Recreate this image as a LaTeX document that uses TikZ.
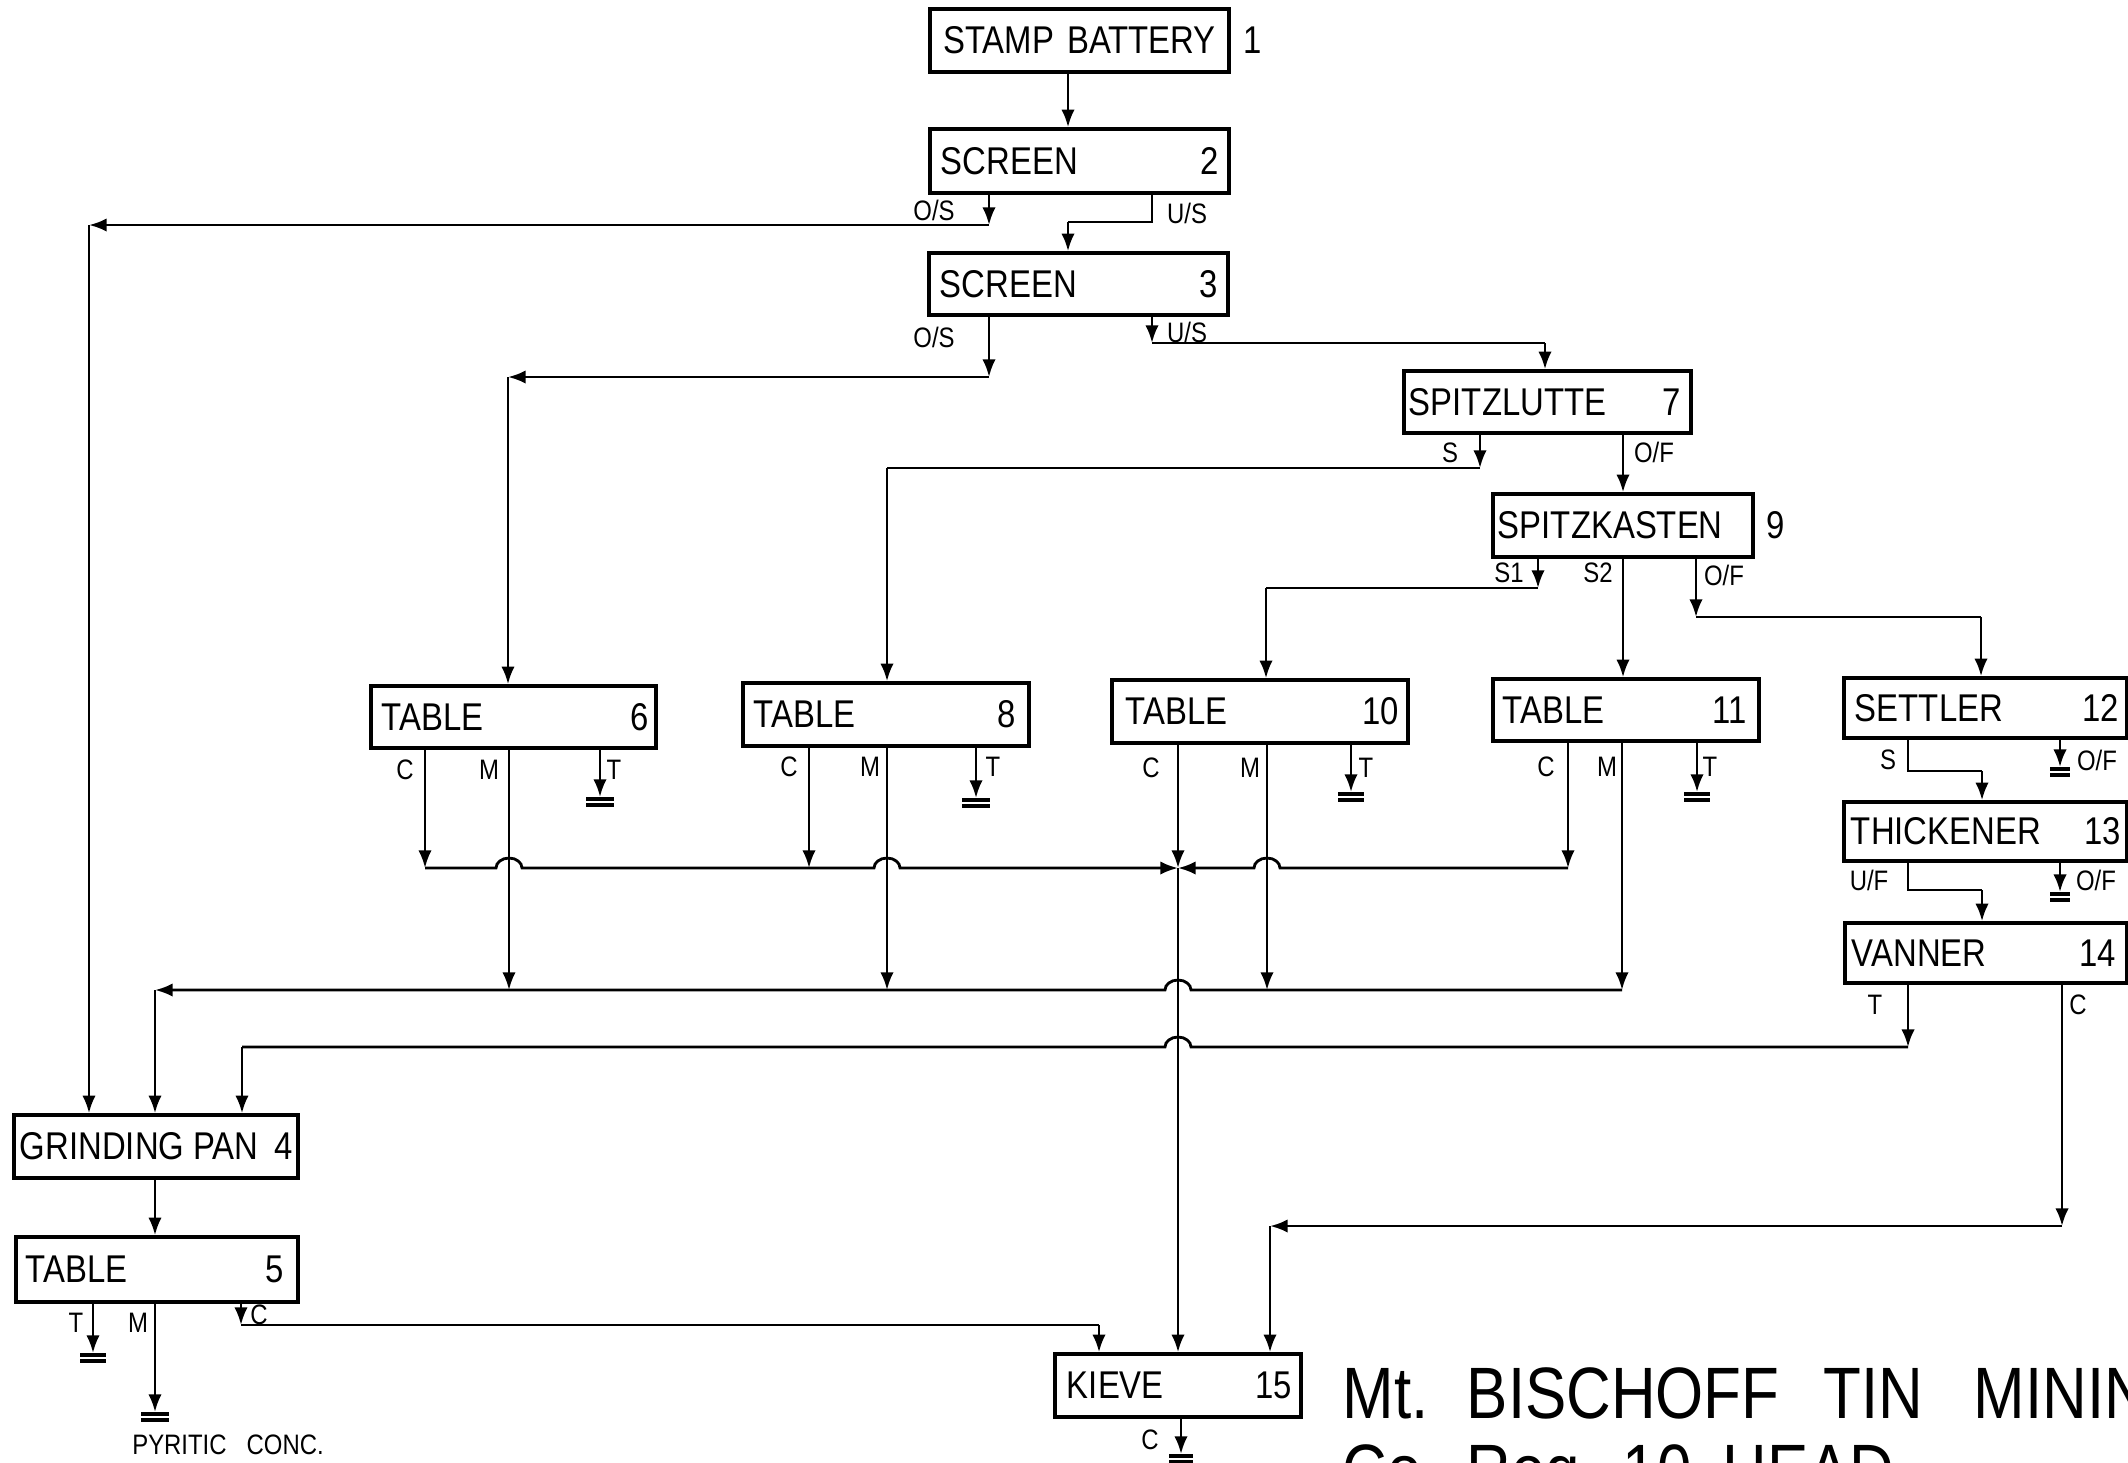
\documentclass[tikz,border=0pt]{standalone}
\usepackage{fontspec}
\setmainfont{Liberation Sans}[FakeStretch=0.85]
\usetikzlibrary{arrows.meta,calc,fit}

% two bars of a discharge point under an arrow tip
\newcommand{\sink}[2]{%
  \draw[bar] ($(#1)+(-#2,2)$) -- ($(#1)+(#2,2)$);
  \draw[bar] ($(#1)+(-#2,8)$) -- ($(#1)+(#2,8)$);}

\begin{document}
\begin{tikzpicture}[x=0.01cm,y=-0.01cm,
    unitbox/.style={draw,line width=1pt,inner sep=0pt},
    boxtxt/.style={font=\fontsize{11}{13}\selectfont,inner sep=0pt},
    tag/.style={font=\fontsize{8}{9}\selectfont,inner sep=0pt},
    headtxt/.style={font=\fontsize{20.7}{24}\selectfont,inner sep=0pt,anchor=base west},
    arr/.style={-{Latex[length=5pt,width=3.8pt]},line width=0.8pt},
    ln/.style={line width=0.8pt},
    bar/.style={line width=0.9pt},
    hopr/.style={insert path={arc[start angle=180,end angle=0,x radius=0.13cm,y radius=0.1cm]}},
    hopl/.style={insert path={arc[start angle=0,end angle=180,x radius=0.13cm,y radius=0.1cm]}}]
  \useasboundingbox (0,0) rectangle (2128,1462);
  \clip (0,0) rectangle (2128,1462);
  \fill[white] (0,0) rectangle (2128,1462);

  % units
  \node[unitbox,fit={(930,9) (1229,72)}] (b1) {};
  \node[unitbox,fit={(930,129) (1229,193)}] (b2) {};
  \node[unitbox,fit={(929,253) (1228,315)}] (b3) {};
  \node[unitbox,fit={(14,1115) (298,1178)}] (b4) {};
  \node[unitbox,fit={(16,1237) (298,1302)}] (b5) {};
  \node[unitbox,fit={(371,686) (656,748)}] (b6) {};
  \node[unitbox,fit={(1404,371) (1691,433)}] (b7) {};
  \node[unitbox,fit={(743,683) (1029,746)}] (b8) {};
  \node[unitbox,fit={(1493,494) (1753,557)}] (b9) {};
  \node[unitbox,fit={(1112,680) (1408,743)}] (b10) {};
  \node[unitbox,fit={(1493,679) (1759,741)}] (b11) {};
  \node[unitbox,fit={(1844,678) (2127,738)}] (b12) {};
  \node[unitbox,fit={(1844,802) (2127,861)}] (b13) {};
  \node[unitbox,fit={(1845,923) (2127,983)}] (b14) {};
  \node[unitbox,fit={(1055,1354) (1301,1417)}] (b15) {};

  \node[boxtxt] (b1t) at (b1) {STAMP\hspace{0.13cm}BATTERY};
  \node[boxtxt,anchor=west] (b1n) at ($(b1.east)+(12,0)$) {1};
  \node[boxtxt,anchor=west] (b2t) at ($(b2.west)+(12,0)$) {SCREEN};
  \node[boxtxt,anchor=east] (b2n) at ($(b2.east)+(-11,0)$) {2};
  \node[boxtxt,anchor=west] (b3t) at ($(b3.west)+(12,0)$) {SCREEN};
  \node[boxtxt,anchor=east] (b3n) at ($(b3.east)+(-11,0)$) {3};
  \node[boxtxt,anchor=west] (b4t) at ($(b4.west)+(7,0)$) {GRINDING PAN};
  \node[boxtxt,anchor=east] (b4n) at ($(b4.east)+(-6,0)$) {4};
  \node[boxtxt,anchor=west] (b5t) at ($(b5.west)+(11,0)$) {TABLE};
  \node[boxtxt,anchor=east] (b5n) at ($(b5.east)+(-15,0)$) {5};
  \node[boxtxt,anchor=west] (b6t) at ($(b6.west)+(12,0)$) {TABLE};
  \node[boxtxt,anchor=east] (b6n) at ($(b6.east)+(-8,0)$) {6};
  \node[boxtxt,anchor=west] (b7t) at ($(b7.west)+(6,0)$) {SPITZLUTTE};
  \node[boxtxt,anchor=east] (b7n) at ($(b7.east)+(-11,0)$) {7};
  \node[boxtxt,anchor=west] (b8t) at ($(b8.west)+(12,0)$) {TABLE};
  \node[boxtxt,anchor=east] (b8n) at ($(b8.east)+(-14,0)$) {8};
  \node[boxtxt,anchor=west] (b9t) at ($(b9.west)+(6,0)$) {SPITZKASTEN};
  \node[boxtxt,anchor=west] (b9n) at ($(b9.east)+(11,0)$) {9};
  \node[boxtxt,anchor=west] (b10t) at ($(b10.west)+(15,0)$) {TABLE};
  \node[boxtxt,anchor=east] (b10n) at ($(b10.east)+(-10,0)$) {10};
  \node[boxtxt,anchor=west] (b11t) at ($(b11.west)+(11,0)$) {TABLE};
  \node[boxtxt,anchor=east] (b11n) at ($(b11.east)+(-13,0)$) {11};
  \node[boxtxt,anchor=west] (b12t) at ($(b12.west)+(12,0)$) {SETTLER};
  \node[boxtxt,anchor=east] (b12n) at ($(b12.east)+(-9,0)$) {12};
  \node[boxtxt,anchor=west] (b13t) at ($(b13.west)+(8,0)$) {THICKENER};
  \node[boxtxt,anchor=east] (b13n) at ($(b13.east)+(-7,0)$) {13};
  \node[boxtxt,anchor=west] (b14t) at ($(b14.west)+(8,0)$) {VANNER};
  \node[boxtxt,anchor=east] (b14n) at ($(b14.east)+(-12,0)$) {14};
  \node[boxtxt,anchor=west] (b15t) at ($(b15.west)+(13,0)$) {KIEVE};
  \node[boxtxt,anchor=east] (b15n) at ($(b15.east)+(-10,0)$) {15};

  % stream labels
  \node[tag] (l2os) at (934,210) {O/S};
  \node[tag] (l2us) at (1187,213) {U/S};
  \node[tag] (l3os) at (934,337) {O/S};
  \node[tag] (l3us) at (1187,332) {U/S};
  \node[tag] (l7s) at (1450,453) {S};
  \node[tag] (l7of) at (1654,452) {O/F};
  \node[tag] (l9s1) at (1509,573) {S1};
  \node[tag] (l9s2) at (1598,573) {S2};
  \node[tag] (l9of) at (1724,575) {O/F};
  \node[tag] (l6c) at (405,770) {C};
  \node[tag] (l6m) at (489,770) {M};
  \node[tag] (l6t) at (614,770) {T};
  \node[tag] (l8c) at (789,767) {C};
  \node[tag] (l8m) at (870,767) {M};
  \node[tag] (l8t) at (993,767) {T};
  \node[tag] (l10c) at (1151,768) {C};
  \node[tag] (l10m) at (1250,768) {M};
  \node[tag] (l10t) at (1366,768) {T};
  \node[tag] (l11c) at (1546,767) {C};
  \node[tag] (l11m) at (1607,767) {M};
  \node[tag] (l11t) at (1710,767) {T};
  \node[tag] (l12s) at (1888,760) {S};
  \node[tag] (l12of) at (2097,760) {O/F};
  \node[tag] (l13uf) at (1869,880) {U/F};
  \node[tag] (l13of) at (2096,880) {O/F};
  \node[tag] (l14t) at (1875,1005) {T};
  \node[tag] (l14c) at (2078,1005) {C};
  \node[tag] (l5t) at (76,1323) {T};
  \node[tag] (l5m) at (138,1323) {M};
  \node[tag] (l5c) at (259,1315) {C};
  \node[tag] (l15c) at (1150,1440) {C};
  \node[tag] (pyr) at (228,1445) {PYRITIC\hspace{0.2cm}CONC.};

  % title
  \node[headtxt] (h1) at (1342,1418) {Mt.};
  \node[headtxt] (h2) at (1466,1418) {BISCHOFF};
  \node[headtxt] (h3) at (1823,1418) {TIN};
  \node[headtxt] (h4) at (1973,1418) {MINING};
  \node[headtxt] (h5) at (1342,1495) {Co.};
  \node[headtxt] (h6) at (1466,1495) {Reg.};
  \node[headtxt] (h7) at (1622,1495) {10};
  \node[headtxt] (h8) at (1722,1495) {HEAD};

  % crushing and screening
  \coordinate (x1) at (1068,100);
  \draw[arr] (b1.south -| x1) -- (b2.north -| x1);
  \coordinate (os2) at (989,225);
  \coordinate (os2l) at (89,225);
  \draw[arr] (b2.south -| os2) -- (os2);
  \draw[arr] (os2) -- (os2l);
  \draw[arr] (os2l) -- (b4.north -| os2l);
  \coordinate (us2) at (1152,222);
  \draw[ln] (b2.south -| us2) -- (us2) -- (us2 -| x1);
  \draw[arr] (us2 -| x1) -- (b3.north -| x1);
  \coordinate (os3) at (989,377);
  \coordinate (os3l) at (508,377);
  \draw[arr] (b3.south -| os3) -- (os3);
  \draw[arr] (os3) -- (os3l);
  \draw[arr] (os3l) -- (b6.north -| os3l);
  \coordinate (us3) at (1152,343);
  \coordinate (us3r) at (1545,343);
  \draw[arr] (b3.south -| us3) -- (us3);
  \draw[ln] (us3) -- (us3r);
  \draw[arr] (us3r) -- (b7.north -| us3r);

  % classifiers
  \coordinate (s7) at (1480,468);
  \coordinate (s7l) at (887,468);
  \draw[arr] (b7.south -| s7) -- (s7);
  \draw[ln] (s7) -- (s7l);
  \draw[arr] (s7l) -- (b8.north -| s7l);
  \coordinate (of7) at (1623,460);
  \draw[arr] (b7.south -| of7) -- (b9.north -| of7);
  \coordinate (s91) at (1538,588);
  \coordinate (s91l) at (1266,588);
  \draw[arr] (b9.south -| s91) -- (s91);
  \draw[ln] (s91) -- (s91l);
  \draw[arr] (s91l) -- (b10.north -| s91l);
  \draw[arr] (b9.south -| of7) -- (b11.north -| of7);
  \coordinate (of9) at (1696,617);
  \coordinate (of9r) at (1981,617);
  \draw[arr] (b9.south -| of9) -- (of9);
  \draw[ln] (of9) -- (of9r);
  \draw[arr] (of9r) -- (b12.north -| of9r);

  % slimes
  \coordinate (s12) at (1908,771);
  \coordinate (s12r) at (1982,771);
  \draw[ln] (b12.south -| s12) -- (s12) -- (s12r);
  \draw[arr] (s12r) -- (b13.north -| s12r);
  \coordinate (of12) at (2060,767);
  \draw[arr] (b12.south -| of12) -- (of12);
  \sink{of12}{10}
  \coordinate (uf13) at (1908,890);
  \coordinate (uf13r) at (1982,890);
  \draw[ln] (b13.south -| uf13) -- (uf13) -- (uf13r);
  \draw[arr] (uf13r) -- (b14.north -| uf13r);
  \coordinate (of13) at (2060,892);
  \draw[arr] (b13.south -| of13) -- (of13);
  \sink{of13}{10}

  % table tailings
  \coordinate (t6) at (600,797);
  \draw[arr] (b6.south -| t6) -- (t6);
  \sink{t6}{14}
  \coordinate (t8) at (976,798);
  \draw[arr] (b8.south -| t8) -- (t8);
  \sink{t8}{14}
  \coordinate (t10) at (1351,792);
  \draw[arr] (b10.south -| t10) -- (t10);
  \sink{t10}{13}
  \coordinate (t11) at (1697,792);
  \draw[arr] (b11.south -| t11) -- (t11);
  \sink{t11}{13}

  % concentrates to kieve
  \coordinate (c6) at (425,868);
  \coordinate (c8) at (809,868);
  \coordinate (cj) at (1178,868);
  \coordinate (c11) at (1568,868);
  \coordinate (m6) at (509,990);
  \coordinate (m8) at (887,990);
  \coordinate (m10) at (1267,990);
  \coordinate (m11) at (1622,990);
  \coordinate (mg) at (155,990);
  \draw[arr] (b6.south -| c6) -- (c6);
  \draw[arr] (b8.south -| c8) -- (c8);
  \draw[arr] (b10.south -| cj) -- (cj);
  \draw[arr] (b11.south -| c11) -- (c11);
  \draw[arr] (c6) -- ($(c6 -| m6)+(-13,0)$) [hopr] -- ($(c6 -| m8)+(-13,0)$) [hopr] -- (cj);
  \draw[arr] (c11) -- ($(c11 -| m10)+(13,0)$) [hopl] -- (cj);
  \draw[arr] (cj) -- (b15.north -| cj);

  % middlings to grinding pan
  \draw[arr] (b6.south -| m6) -- (m6);
  \draw[arr] (b8.south -| m8) -- (m8);
  \draw[arr] (b10.south -| m10) -- (m10);
  \draw[arr] (b11.south -| m11) -- (m11);
  \draw[arr] (m11) -- ($(m11 -| cj)+(13,0)$) [hopl] -- (mg);
  \draw[arr] (mg) -- (b4.north -| mg);

  % vanner
  \coordinate (tv) at (1908,1047);
  \coordinate (tg) at (242,1047);
  \draw[arr] (b14.south -| tv) -- (tv);
  \draw[ln] (tv) -- ($(tv -| cj)+(13,0)$) [hopl] -- (tg);
  \draw[arr] (tg) -- (b4.north -| tg);
  \coordinate (cv) at (2062,1226);
  \coordinate (ck) at (1270,1226);
  \draw[arr] (b14.south -| cv) -- (cv);
  \draw[arr] (cv) -- (ck);
  \draw[arr] (ck) -- (b15.north -| ck);

  % regrind circuit
  \draw[arr] (b4.south -| mg) -- (b5.north -| mg);
  \coordinate (t5) at (93,1353);
  \draw[arr] (b5.south -| t5) -- (t5);
  \sink{t5}{13}
  \coordinate (m5) at (155,1412);
  \draw[arr] (b5.south -| m5) -- (m5);
  \sink{m5}{14}
  \coordinate (c5) at (241,1325);
  \coordinate (c5k) at (1099,1325);
  \draw[arr] (b5.south -| c5) -- (c5);
  \draw[ln] (c5) -- (c5k);
  \draw[arr] (c5k) -- (b15.north -| c5k);
  \coordinate (c15) at (1181,1454);
  \draw[arr] (b15.south -| c15) -- (c15);
  \sink{c15}{12}
\end{tikzpicture}
\end{document}
